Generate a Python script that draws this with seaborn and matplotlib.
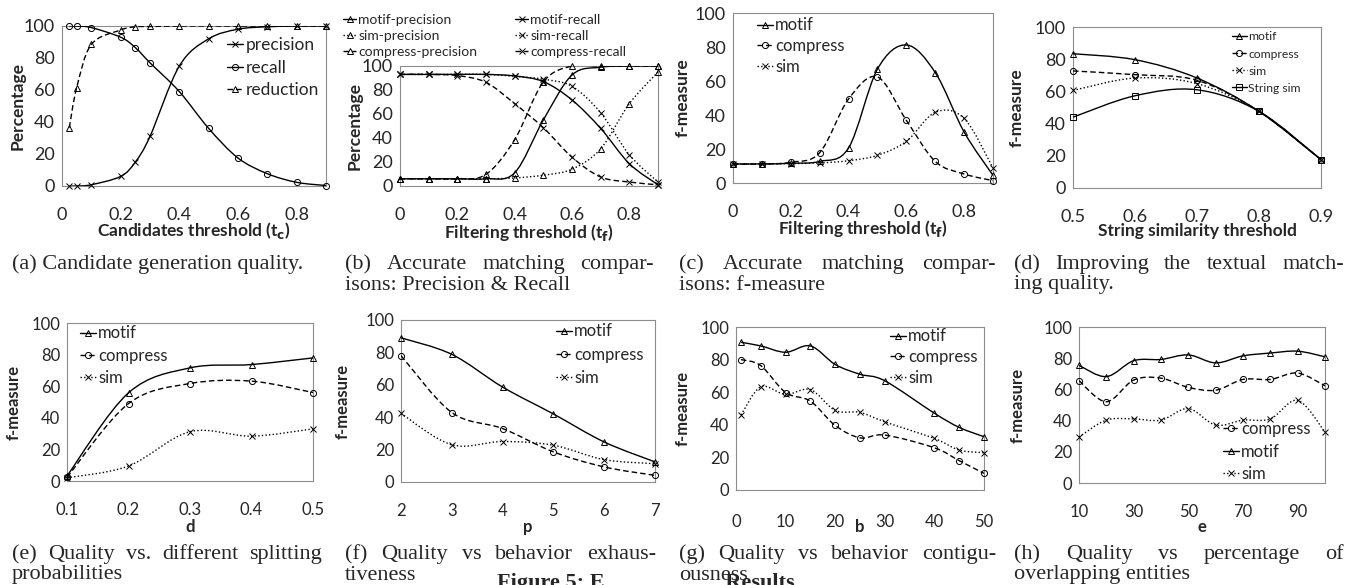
import numpy as np
import matplotlib
matplotlib.use("Agg")
import matplotlib.pyplot as plt
import seaborn as sns
from matplotlib.path import Path
from matplotlib.patches import PathPatch, Rectangle
from matplotlib.lines import Line2D

# ---- data ----
# (a) candidate generation
tc = [0.025, 0.05, 0.1, 0.2, 0.25, 0.3, 0.4, 0.5, 0.6, 0.7, 0.8, 0.9]
a_precision = [0, 0, 0.8, 6, 15, 31, 75, 92, 98, 99.5, 100, 100]
a_recall = [100, 100, 99, 93, 86.5, 77, 59, 36, 17.5, 7.7, 2.3, 0.3]
a_reduction = [36.5, 61.4, 88.5, 97.5, 99.5, 99.7, 100, 100, 100, 100, 100, 100]

# (b) precision / recall vs filtering threshold
tf = [0, 0.1, 0.2, 0.3, 0.4, 0.5, 0.6, 0.7, 0.8, 0.9]
b_motif_prec = [6, 6, 6, 6, 11, 55, 92.5, 99, 100, 100]
b_motif_rec = [93, 93, 93, 93, 91.7, 87, 71.7, 48, 18.6, 1]
b_sim_prec = [6, 6, 6, 6, 6.7, 9, 14, 31, 68.6, 95]
b_sim_rec = [93, 93, 93, 93, 91.4, 89, 83, 61, 26, 3.3]
b_comp_prec = [6, 6, 6, 9.7, 38.6, 86.7, 100, 100, 100, 100]
b_comp_rec = [93, 93, 92, 86.4, 68.6, 48.6, 24, 7.5, 3.3, 1]

# (c) f-measure vs filtering threshold
c_motif = [11.2, 11.2, 11.6, 12.7, 20.6, 67, 81.2, 65, 30, 4.5]
c_compress = [11.2, 11.2, 12.2, 17.8, 49.4, 62.4, 36.9, 12.7, 5.3, 1.4]
c_sim = [11.2, 11.2, 11.4, 11.8, 13.1, 16.3, 24.5, 41.6, 38, 8.8]

# (d) string similarity threshold
d_x = [0.5, 0.6, 0.7, 0.8, 0.9]
d_motif = [83.4, 79.7, 68.3, 47.6, 17.6]
d_compress = [72.7, 70.4, 66.9, 47.6, 17.6]
d_sim = [60.6, 68.3, 64.8, 47.6, 17.6]
d_string = [44, 57.3, 61, 47.6, 17.6]

# (e) splitting probability d
e_x = [0.1, 0.2, 0.3, 0.4, 0.5]
e_motif = [3.2, 55.8, 71.6, 73.7, 77.9]
e_compress = [2.3, 49, 61.7, 63.2, 56]
e_sim = [2, 9.5, 31.2, 28.4, 33]

# (f) behavior exhaustiveness p
f_x = [2, 3, 4, 5, 6, 7]
f_motif = [89, 78.8, 58.6, 42, 24.7, 12.4]
f_compress = [78, 42.9, 33, 18.6, 9.3, 4.1]
f_sim = [42.3, 23, 25, 22.7, 13.8, 11.3]

# (g) behavior contiguousness b
g_x = [1, 5, 10, 15, 20, 25, 30, 40, 45, 50]
g_motif = [90.6, 88.4, 84.5, 88.4, 77, 71, 67, 47.1, 38.4, 32.7]
g_compress = [80, 76.3, 59.8, 54.5, 39.6, 32, 33.7, 25.9, 18, 10.2]
g_sim = [46, 63.3, 58.6, 61.6, 48.8, 47.6, 41.8, 31.6, 24.5, 22.9]

# (h) overlapping entities e
h_x = [10, 20, 30, 40, 50, 60, 70, 80, 90, 100]
h_motif = [75.4, 68.2, 78.4, 79.2, 82.1, 77, 81.5, 83.3, 84.5, 80.9]
h_compress = [65.6, 52.1, 66, 67.2, 61.3, 59.5, 66.4, 66.4, 70.5, 62.3]
h_sim = [29.5, 40.3, 41.1, 40.3, 47.7, 37.1, 40.3, 41.1, 53, 32.6]

y_ticks = [0, 20, 40, 60, 80, 100]

# ---- styling ----
sns.set_style("white")
plt.rcParams['font.family'] = ['Lato', 'DejaVu Sans']

W, H = 1348, 585
SOLID = '-'
DASH = (0, (4, 2.2))
DOT = (0, (1, 1.6))
MS = 4.4
LW = 1.0
CAP_FS = 16

fig = plt.figure(figsize=(W / 100, H / 100), dpi=100)


def fx(x):
    return x / W


def fy(y):
    return 1 - y / H


def smooth_path(xs, ys):
    # Excel style smoothed line: Catmull-Rom segments as cubic Beziers
    pts = np.column_stack([xs, ys]).astype(float)
    n = len(pts)
    verts = [pts[0]]
    codes = [Path.MOVETO]
    for i in range(n - 1):
        p0 = pts[i - 1] if i > 0 else pts[i]
        p1, p2 = pts[i], pts[i + 1]
        p3 = pts[i + 2] if i + 2 < n else pts[i + 1]
        verts += [p1 + (p2 - p0) / 6, p2 - (p3 - p1) / 6, p2]
        codes += [Path.CURVE4] * 3
    return Path(verts, codes)


def series(ax, xs, ys, ls, marker):
    ax.add_patch(PathPatch(smooth_path(xs, ys), facecolor='none', edgecolor='black',
                           lw=LW, linestyle=ls, zorder=3))
    sns.lineplot(x=xs, y=ys, ax=ax, color='black', lw=0, marker=marker,
                 markersize=MS, markerfacecolor='none', markeredgecolor='black',
                 markeredgewidth=0.7, clip_on=False, zorder=4, legend=False)


def handle(ls, marker):
    return Line2D([0], [0], color='black', lw=LW, linestyle=ls, marker=marker,
                  markersize=MS, markerfacecolor='none', markeredgewidth=0.7)


def legend(ax, items, x, y_first, fs, pitch, hl=0.95):
    # y_first: centre of the first legend row, in picture pixels
    fs_px = fs * 100 / 72
    ls = max(pitch / fs_px - 0.88, 0)
    leg = ax.legend([handle(s, m) for _, s, m in items], [lab for lab, _, _ in items],
                    loc='upper left', bbox_to_anchor=(fx(x), fy(y_first - 0.46 * fs_px)),
                    bbox_transform=fig.transFigure, frameon=False, borderpad=0,
                    borderaxespad=0, handlelength=hl, handletextpad=0.15,
                    labelspacing=ls, prop={'family': 'Lato', 'size': fs})
    return leg


def panel(box, xlim, xticks, xticklabels, xlabel, ylabel, xlab_y, ylab_x,
          tick_fs=13, lab_fs=12.5, xpad=15):
    l, t, r, b = box
    ax = fig.add_axes([fx(l), fy(b), (r - l) / W, (b - t) / H])
    ax.set_xlim(*xlim)
    ax.set_ylim(0, 100)
    ax.set_yticks(y_ticks)
    ax.set_yticklabels([str(v) for v in y_ticks])
    ax.set_xticks(xticks)
    ax.set_xticklabels(xticklabels)
    for s in ax.spines.values():
        s.set_color('#8c8c8c')
        s.set_linewidth(0.8)
    ax.tick_params(axis='y', length=0, pad=5, labelsize=tick_fs)
    ax.tick_params(axis='x', direction='in', length=3, color='#b0b0b0',
                   pad=xpad, labelsize=tick_fs)
    ax.set_xlabel(xlabel, fontsize=lab_fs, fontweight='bold', va='center')
    ax.xaxis.set_label_coords(0.5, xlab_y)
    ax.set_ylabel(ylabel, fontsize=lab_fs, fontweight='bold', va='center')
    ax.yaxis.set_label_coords(ylab_x, 0.5)
    ax.grid(False)
    return ax


def caption(x0, x1, y0, line1, line2=None, justify=True):
    kw = dict(fontsize=CAP_FS, family='Liberation Serif', va='baseline', zorder=6)
    if justify:
        words = line1.split(' ')
        texts = [fig.text(0, fy(y0), w, **kw) for w in words]
        rend = fig.canvas.get_renderer()
        widths = [t.get_window_extent(rend).width for t in texts]
        gap = (x1 - x0 - sum(widths)) / (len(words) - 1)
        x = x0
        for t, w in zip(texts, widths):
            t.set_x(fx(x))
            x += w + gap
    else:
        fig.text(fx(x0), fy(y0), line1, **kw)
    if line2:
        fig.text(fx(x0), fy(y0 + 20.5), line2, **kw)


thr_ticks = [0, 0.2, 0.4, 0.6, 0.8]
thr_labels = ['0', '0.2', '0.4', '0.6', '0.8']

# (a)
ax = panel((62, 26, 326, 186), (0, 0.9), thr_ticks, thr_labels,
           r'Candidates threshold (t$_\mathbf{c}$)', 'Percentage', -0.28, -0.167)
series(ax, tc, a_precision, SOLID, 'x')
series(ax, tc, a_recall, SOLID, 'o')
series(ax, tc, a_reduction, DASH, '^')
legend(ax, [('precision', SOLID, 'x'), ('recall', SOLID, 'o'),
            ('reduction', DASH, '^')], 227, 45, 12.5, 22)

# (b)
ax = panel((400, 66, 658, 186), (0, 0.9), thr_ticks, thr_labels,
           r'Filtering threshold (t$_\mathbf{f}$)', 'Percentage', -0.385, -0.174)
series(ax, tf, b_motif_prec, SOLID, '^')
series(ax, tf, b_motif_rec, SOLID, 'x')
series(ax, tf, b_sim_prec, DOT, '^')
series(ax, tf, b_sim_rec, DOT, 'x')
series(ax, tf, b_comp_prec, DASH, '^')
series(ax, tf, b_comp_rec, DASH, 'x')
lg = legend(ax, [('motif-precision', SOLID, '^'), ('sim-precision', DOT, '^'),
                 ('compress-precision', DASH, '^')], 343, 20, 10, 16.5)
ax.add_artist(lg)
legend(ax, [('motif-recall', SOLID, 'x'), ('sim-recall', DOT, 'x'),
            ('compress-recall', DASH, 'x')], 515, 20, 10, 16.5)

# (c)
ax = panel((733, 13, 993, 183), (0, 0.9), thr_ticks, thr_labels,
           r'Filtering threshold (t$_\mathbf{f}$)', 'f-measure', -0.265, -0.192)
series(ax, tf, c_motif, SOLID, '^')
series(ax, tf, c_compress, DASH, 'o')
series(ax, tf, c_sim, DOT, 'x')
legend(ax, [('motif', SOLID, '^'), ('compress', DASH, 'o'), ('sim', DOT, 'x')],
       757, 25, 12, 19.5)

# (d)
ax = panel((1073, 27, 1321, 188), (0.5, 0.9), d_x, ['0.5', '0.6', '0.7', '0.8', '0.9'],
           'String similarity threshold', 'f-measure', -0.27, -0.226)
series(ax, d_x, d_motif, SOLID, '^')
series(ax, d_x, d_compress, DASH, 'o')
series(ax, d_x, d_sim, DOT, 'x')
series(ax, d_x, d_string, SOLID, 's')
legend(ax, [('motif', SOLID, '^'), ('compress', DASH, 'o'), ('sim', DOT, 'x'),
            ('String sim', SOLID, 's')], 1232, 37, 8.7, 16.7, hl=1.2)

# (e)
ax = panel((67, 323, 313, 481), (0.1, 0.5), e_x, ['0.1', '0.2', '0.3', '0.4', '0.5'],
           'd', 'f-measure', -0.29, -0.215, tick_fs=12, lab_fs=12)
series(ax, e_x, e_motif, SOLID, '^')
series(ax, e_x, e_compress, DASH, 'o')
series(ax, e_x, e_sim, DOT, 'x')
legend(ax, [('motif', SOLID, '^'), ('compress', DASH, 'o'), ('sim', DOT, 'x')],
       80, 333, 12, 21)

# (f)
ax = panel((401, 320, 655, 482), (2, 7), f_x, [str(v) for v in f_x],
           'p', 'f-measure', -0.278, -0.228, tick_fs=12, lab_fs=12)
series(ax, f_x, f_motif, SOLID, '^')
series(ax, f_x, f_compress, DASH, 'o')
series(ax, f_x, f_sim, DOT, 'x')
legend(ax, [('motif', SOLID, '^'), ('compress', DASH, 'o'), ('sim', DOT, 'x')],
       556, 331, 12, 22)

# (g)
g_ticks = [0, 10, 20, 30, 40, 50]
ax = panel((736, 327, 984, 490), (0, 50), g_ticks, [str(v) for v in g_ticks],
           'b', 'f-measure', -0.23, -0.214, tick_fs=12, lab_fs=12, xpad=17)
series(ax, g_x, g_motif, SOLID, '^')
series(ax, g_x, g_compress, DASH, 'o')
series(ax, g_x, g_sim, DOT, 'x')
legend(ax, [('motif', SOLID, '^'), ('compress', DASH, 'o'), ('sim', DOT, 'x')],
       890, 336, 12, 19.5)

# (h)
h_ticks = [10, 30, 50, 70, 90]
ax = panel((1079, 327, 1325, 483), (10, 100), h_ticks, [str(v) for v in h_ticks],
           'e', 'f-measure', -0.282, -0.248, tick_fs=12, lab_fs=12)
series(ax, h_x, h_motif, SOLID, '^')
series(ax, h_x, h_compress, DASH, 'o')
series(ax, h_x, h_sim, DOT, 'x')
legend(ax, [('compress', DASH, 'o'), ('motif', SOLID, '^'), ('sim', DOT, 'x')],
       1223, 429, 12, 21)

# ---- captions ----
caption(12, 322, 269, '(a) Candidate generation quality.', justify=False)
caption(345, 654, 269, '(b) Accurate matching compar-', 'isons: Precision & Recall')
caption(679, 996, 269, '(c) Accurate matching compar-', 'isons: f-measure')
caption(1014, 1344, 269, '(d) Improving the textual match-', 'ing quality.')
caption(12, 322, 559, '(e) Quality vs. different splitting', 'probabilities')
caption(345, 656, 559, '(f) Quality vs behavior exhaus-', 'tiveness')
caption(679, 996, 559, '(g) Quality vs behavior contigu-', 'ousness')
caption(1014, 1344, 559, '(h) Quality vs percentage of', 'overlapping entities')

# figure title, partly hidden behind the (g) caption block
fig.text(fx(497), fy(588), 'Figure 5: Experimental Results', fontsize=16,
         family='Liberation Serif', fontweight='bold', va='baseline', zorder=1)
fig.patches.append(Rectangle((fx(604), 0), (720 - 604) / W, 30 / H,
                             transform=fig.transFigure, facecolor='white',
                             edgecolor='none', zorder=2))

fig.savefig('out.png', dpi=100)
